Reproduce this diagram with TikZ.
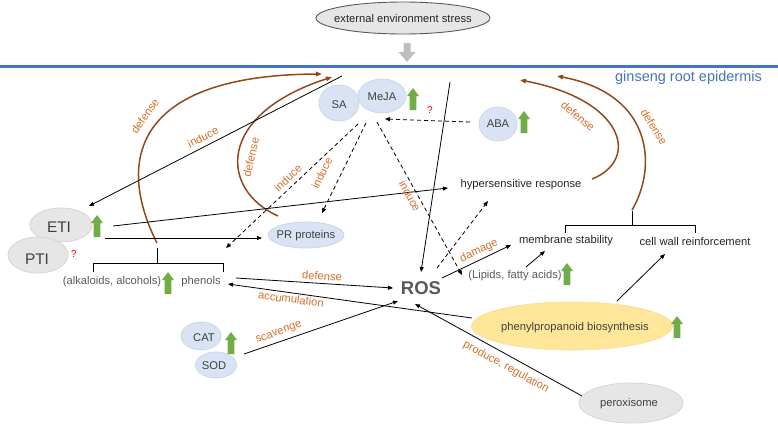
\documentclass[tikz,border=0pt]{standalone}
\usepackage{fontspec}
\setmainfont{Liberation Sans}
\usetikzlibrary{arrows.meta,shapes.geometric}
\definecolor{blueline}{RGB}{68,114,196}
\definecolor{orangec}{RGB}{214,110,40}
\definecolor{brownc}{RGB}{148,72,22}
\definecolor{bluefill}{RGB}{218,227,243}
\definecolor{blueedge}{RGB}{205,214,232}
\definecolor{grayfill}{RGB}{231,230,230}
\definecolor{grayedge}{RGB}{212,212,212}
\definecolor{yellowfill}{RGB}{255,230,153}
\definecolor{yellowedge}{RGB}{248,224,160}
\definecolor{greenc}{RGB}{112,173,71}
\definecolor{graytext}{RGB}{64,64,64}
\definecolor{midgray}{RGB}{89,89,89}
\definecolor{arrowgray}{RGB}{191,191,191}
\begin{document}
\begin{tikzpicture}[x=1pt,y=-1pt,
  lbl/.style={inner sep=0pt, font=\fontsize{11.2}{13}\selectfont, text=graytext},
  blk/.style={inner sep=0pt, font=\fontsize{11.2}{13}\selectfont, text=black!85},
  olbl/.style={inner sep=0pt, font=\fontsize{11.2}{13}\selectfont, text=orangec},
  big/.style={inner sep=0pt, font=\fontsize{15.4}{17}\selectfont, text=graytext},
  qm/.style={inner sep=0pt, font=\fontsize{10}{11}\selectfont, text=red},
  blueell/.style={ellipse, draw=blueedge, fill=bluefill, line width=0.8pt, inner sep=0pt},
  grayell/.style={ellipse, draw=grayedge, fill=grayfill, line width=0.8pt, inner sep=0pt},
  arr/.style={-{Triangle[length=5pt,width=4pt]}, line width=0.8pt, draw=black},
  darr/.style={arr, dash pattern=on 4pt off 3pt},
  brarr/.style={-{Triangle[length=6pt,width=4.5pt]}, line width=1.5pt, draw=brownc},
  brk/.style={line width=1pt, draw=black},
  uparr/.pic={\fill[greenc] (-3.3,0) -- (-3.3,-14) -- (-6,-14) -- (0,-22) -- (6,-14) -- (3.3,-14) -- (3.3,0) -- cycle;}
]
\useasboundingbox (0,0) rectangle (778,424);

% top: external stress
\node[ellipse, draw=midgray, fill=grayfill, line width=0.9pt, minimum width=174pt, minimum height=32pt, inner sep=0pt] (ext) at (403,18) {};
\node[blk] (extT) at (403,18) {external environment stress};
\fill[arrowgray] (403.5,43) -- (410.5,43) -- (410.5,52) -- (415.5,52) -- (407,62) -- (398.5,52) -- (403.5,52) -- cycle;
\draw[blueline, line width=3pt] (0,66) -- (778,66);
\node[inner sep=0pt, font=\fontsize{14.5}{16}\selectfont, text=blueline] (epi) at (688.5,78) {ginseng root epidermis};

% ellipses
\node[grayell, minimum width=62pt, minimum height=34pt] (eti) at (61,225) {};
\node[big] (etiT) at (59,227) {ETI};
\node[grayell, minimum width=60pt, minimum height=36pt] (pti) at (38,255) {};
\node[big] (ptiT) at (37,259) {PTI};
\node[qm] (q1) at (74,254) {?};

\node[blueell, minimum width=40pt, minimum height=36pt] (sa) at (339,103) {};
\node[lbl] (saT) at (339,105) {SA};
\node[blueell, minimum width=48pt, minimum height=34pt] (meja) at (382,96) {};
\node[lbl] (mejaT) at (382,97) {MeJA};
\node[qm] (q2) at (430,110) {?};
\node[blueell, minimum width=38pt, minimum height=34pt] (aba) at (498,124) {};
\node[lbl] (abaT) at (498,124) {ABA};

\node[blueell, minimum width=76pt, minimum height=26pt] (pr) at (306,235) {};
\node[lbl] (prT) at (306,236) {PR proteins};

\node[blueell, minimum width=40pt, minimum height=28pt] (cat) at (201,336) {};
\node[lbl] (catT) at (204,338) {CAT};
\node[blueell, minimum width=41pt, minimum height=26pt] (sod) at (216,365) {};
\node[lbl] (sodT) at (214,366) {SOD};

\node[ellipse, draw=yellowedge, fill=yellowfill, line width=0.8pt, inner sep=0pt, minimum width=201pt, minimum height=48pt] (phe) at (572,326) {};
\node[lbl] (pheT) at (575,328) {phenylpropanoid biosynthesis};
\node[grayell, minimum width=104pt, minimum height=40pt] (per) at (631,403) {};
\node[lbl] (perT) at (629,404) {peroxisome};

% plain texts
\node[blk] (hr) at (521,185) {hypersensitive response};
\node[blk] (ms) at (566,241) {membrane stability};
\node[blk] (cw) at (695,241) {cell wall reinforcement};
\node[lbl, text=midgray] (alk) at (112,282) {(alkaloids, alcohols)};
\node[lbl, text=midgray] (phn) at (201,282) {phenols};
\node[lbl, text=midgray] (lip) at (515,276) {(Lipids, fatty acids)};
\node[inner sep=0pt, font=\fontsize{18.5}{20}\selectfont\bfseries, text=midgray] (ros) at (421,288) {ROS};

% green up arrows
\pic at (97,237) {uparr};
\pic at (413,110) {uparr};
\pic at (524,133) {uparr};
\pic at (168,294) {uparr};
\pic at (567,285) {uparr};
\pic at (677,338) {uparr};
\pic at (231,354) {uparr};

% brackets
\draw[brk] (157,248) -- (157,263);
\draw[brk] (93,272) -- (93,263) -- (223,263) -- (223,272);
\draw[brk] (632,211) -- (632,225);
\draw[brk] (565,233) -- (565,225) -- (695,225) -- (695,233);

% coordinates
\coordinate (indTop) at (342,76);
\coordinate (etiIn) at (89,206);
\coordinate (vTop) at (450,82);
\coordinate (rosTop) at (421,272);
\coordinate (etiA) at (113,226);
\coordinate (hrIn) at (448,188);
\coordinate (etiB) at (105,238);
\coordinate (prIn) at (262,238);
\coordinate (abaOut) at (470,122);
\coordinate (mejaIn) at (385,119);
\coordinate (mj1) at (358,124);
\coordinate (phnIn) at (226,248);
\coordinate (mj2) at (366,123);
\coordinate (prTop) at (322,213);
\coordinate (mj3) at (377,122);
\coordinate (lipIn) at (462,275);
\coordinate (rosA) at (437,268);
\coordinate (hrIn2) at (488,201);
\coordinate (rosB) at (442,278);
\coordinate (msIn) at (511,245);
\coordinate (lipOut) at (526,267);
\coordinate (msIn2) at (545,251);
\coordinate (phnOut) at (236,278);
\coordinate (rosL) at (393,288);
\coordinate (pheL) at (472,318);
\coordinate (phnIn2) at (228,284);
\coordinate (sodOut) at (244,354);
\coordinate (rosBL) at (398,301);
\coordinate (perOut) at (582,396);
\coordinate (rosBR) at (415,304);
\coordinate (pheTop) at (617,301);
\coordinate (cwIn) at (665,254);
\coordinate (c1s) at (157,243);
\coordinate (c1e) at (322,74);
\coordinate (c2s) at (278,216);
\coordinate (c2e) at (332,77);
\coordinate (c3s) at (592,179);
\coordinate (c3e) at (520,80);
\coordinate (c4s) at (632,210);
\coordinate (c4e) at (557,76);

% brown curves
\draw[brarr] (c1s) .. controls (115,160) and (135,75) .. (c1e);
\draw[brarr] (c2s) .. controls (220,190) and (215,115) .. (c2e);
\draw[brarr] (c3s) .. controls (640,160) and (625,100) .. (c3e);
\draw[brarr] (c4s) .. controls (656,170) and (656,95) .. (c4e);

% solid connectors
\draw[arr] (indTop) -- (etiIn);
\draw[arr] (vTop) -- (rosTop);
\draw[arr] (etiA) -- (hrIn);
\draw[arr] (etiB) -- (prIn);
\draw[arr] (rosB) -- (msIn);
\draw[arr] (lipOut) -- (msIn2);
\draw[arr] (phnOut) -- (rosL);
\draw[arr] (pheL) -- (phnIn2);
\draw[arr] (sodOut) -- (rosBL);
\draw[arr] (perOut) -- (rosBR);
\draw[arr] (pheTop) -- (cwIn);

% dashed connectors
\draw[darr] (abaOut) -- (mejaIn);
\draw[darr] (mj1) -- (phnIn);
\draw[darr] (mj2) -- (prTop);
\draw[darr] (mj3) -- (lipIn);
\draw[darr] (rosA) -- (hrIn2);

% orange labels
\node[olbl, rotate=27] (l1) at (203,137) {induce};
\node[olbl, rotate=55] (l2) at (145,116) {defense};
\node[olbl, rotate=77] (l3) at (251,157) {defense};
\node[olbl, rotate=43] (l4) at (288,178) {induce};
\node[olbl, rotate=64] (l5) at (322,173) {induce};
\node[olbl, rotate=-61] (l6) at (410,196) {induce};
\node[olbl, rotate=-40] (l7) at (578,116) {defense};
\node[olbl, rotate=-58] (l8) at (654,127) {defense};
\node[olbl, rotate=25] (l9) at (479,251) {damage};
\node[olbl, rotate=-4] (l10) at (322,276) {defense};
\node[olbl, rotate=-7] (l11) at (291,299) {accumulation};
\node[olbl, rotate=20] (l12) at (279,333) {scavenge};
\node[olbl, rotate=-29] (l13) at (506,367) {produce, regulation};
\end{tikzpicture}
\end{document}
